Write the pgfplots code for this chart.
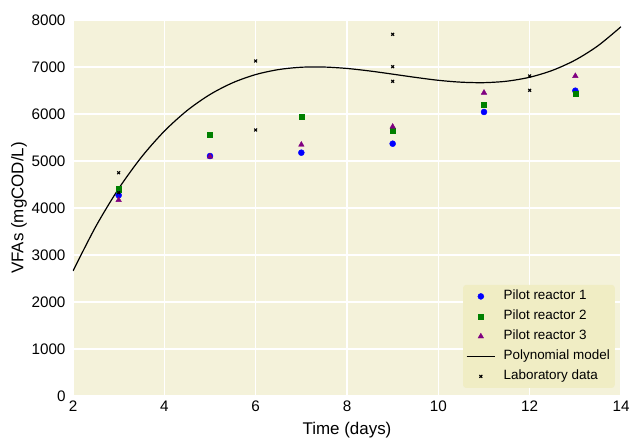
\documentclass[border=0pt]{standalone}
\usepackage{fontspec}
\setmainfont{Liberation Sans}
\usepackage{pgfplots}
\pgfplotsset{compat=1.18}
\definecolor{bgc}{RGB}{244,242,218}
\definecolor{legc}{RGB}{240,237,196}
\definecolor{pblue}{RGB}{0,0,255}
\definecolor{pgreen}{RGB}{0,128,0}
\definecolor{ppurple}{RGB}{128,0,128}
\begin{document}
\begin{tikzpicture}
\useasboundingbox (-73bp,-46bp) rectangle (558bp,396bp);
\begin{axis}[
  at={(0,0)}, anchor=south west,
  scale only axis, width=548bp, height=376bp,
  xmin=2, xmax=14, ymin=0, ymax=8000,
  xtick={2,4,...,14}, ytick={0,1000,...,8000},
  axis background/.style={fill=bgc},
  axis line style={draw=none},
  major tick length=0pt,
  grid=major, grid style={white, line width=1.2bp},
  tick label style={font=\fontsize{15.3}{18}\selectfont},
  /pgf/number format/assume math mode=true,
  /pgf/number format/1000 sep={},
  scaled y ticks=false,
  yticklabel style={xshift=-4bp},
  xticklabel style={yshift=-1bp},
  xlabel={Time (days)},
  ylabel={VFAs (mgCOD/L)},
  every axis x label/.style={at={(axis description cs:0.5,-0.0904)}, anchor=center, font=\fontsize{17}{20}\selectfont},
  every axis y label/.style={at={(axis description cs:-0.0985,0.5)}, rotate=90, anchor=center, font=\fontsize{17}{20}\selectfont},
  legend image code/.code={\draw[mark repeat=2,mark phase=2,#1] plot coordinates {(0cm,0cm) (0.5cm,0cm) (1cm,0cm)};},
  legend style={at={(0.989,0.021)}, anchor=south east, fill=legc, draw=none, rounded corners=3bp,
    font=\fontsize{13.5}{16}\selectfont, inner xsep=3bp, inner ysep=3bp,
    nodes={text height=10bp, text depth=3bp, inner sep=2bp}, row sep=3bp,
    /tikz/every odd column/.append style={column sep=6bp}},
  legend cell align=left,
]
\addplot[only marks, mark=*, mark size=3bp, color=pblue] coordinates {
(3,4270) (5,5106) (7,5177) (9,5368) (11,6043) (13,6496)};
\addlegendentry{Pilot reactor 1}
\addplot[only marks, mark=square*, mark size=2.6bp, color=pgreen] coordinates {
(3,4398) (5,5568) (7,5950) (9,5645) (11,6206) (13,6425)};
\addlegendentry{Pilot reactor 2}
\addplot[only marks, mark=triangle*, mark size=3.2bp, color=ppurple] coordinates {
(3,4170) (5,5095) (7,5347) (9,5730) (11,6453) (13,6809)};
\addlegendentry{Pilot reactor 3}
\addplot[black, line width=1.2bp, smooth, no marks] coordinates {
(2,2660) (2.5,3608) (3,4412) (3.5,5084) (4,5635) (4.5,6075) (5,6415) (5.5,6666)
(6,6839) (6.5,6945) (7,6995) (7.5,6999) (8,6969) (8.5,6915) (9,6848) (9.5,6779)
(10,6717) (10.5,6677) (11,6667) (11.5,6698) (12,6782) (12.5,6929) (13,7149)
(13.5,7455) (14,7857)};
\addlegendentry{Polynomial model}
\addplot[only marks, mark=x, mark size=2bp, line width=1.1bp, black] coordinates {
(3,4751) (3,4326) (6,7128) (6,5660) (9,7695) (9,7007) (9,6695) (12,6809) (12,6504)};
\addlegendentry{Laboratory data}
\end{axis}
\end{tikzpicture}
\end{document}
